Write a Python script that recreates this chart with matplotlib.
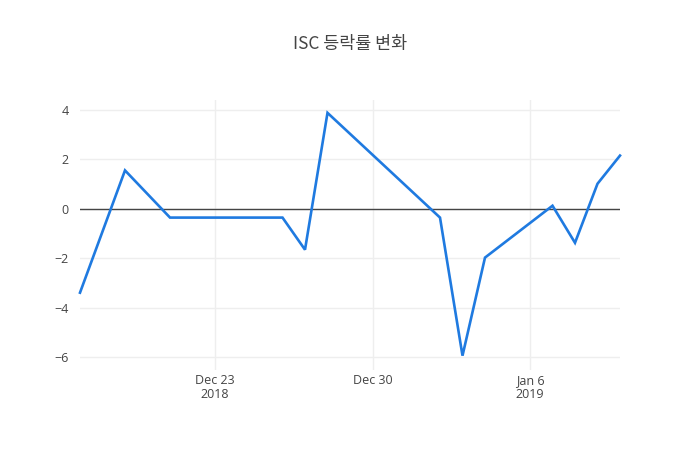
import matplotlib
matplotlib.use("Agg")
import matplotlib.pyplot as plt
import matplotlib.dates as mdates
import numpy as np
import datetime as dt

dates = ["2018-12-17", "2018-12-19", "2018-12-21", "2018-12-26", "2018-12-27",
         "2018-12-28", "2019-01-02", "2019-01-03", "2019-01-04", "2019-01-07",
         "2019-01-08", "2019-01-09", "2019-01-10"]
values = [-3.40, 1.55, -0.36, -0.36, -1.66, 3.88, -0.36, -5.95, -1.98, 0.12,
          -1.38, 1.01, 2.15]
title = "ISC 등락률 변화"
xtick_dates = ["2018-12-23", "2018-12-30", "2019-01-06"]
xtick_labels = ["Dec 23\n2018", "Dec 30", "Jan 6\n2019"]
ytick_vals = [-6, -4, -2, 0, 2, 4]
ytick_labels = ["−6", "−4", "−2", "0", "2", "4"]

plt.rcParams['font.family'] = ['Open Sans', 'Noto Sans CJK KR', 'DejaVu Sans']

x = [dt.datetime.strptime(d, "%Y-%m-%d") for d in dates]
fig = plt.figure(figsize=(7, 4.5), dpi=100)
ax = fig.add_axes([80/700, 80/450, 540/700, 270/450])
ax.plot(x, values, color="#1f7ae0", lw=1.9, solid_joinstyle="miter", zorder=3, clip_on=False)
ax.axhline(0, color="#444444", lw=1, zorder=2)

ax.set_xlim(x[0], x[-1])
ax.set_ylim(-6.53, 4.4)
xt = [dt.datetime.strptime(d, "%Y-%m-%d") for d in xtick_dates]
ax.set_xticks(xt)
ax.set_xticklabels(xtick_labels, fontsize=9, color="#444444", linespacing=1.1)
ax.set_yticks(ytick_vals)
ax.set_yticklabels(ytick_labels, fontsize=9, color="#444444")
ax.grid(True, color="#eeeeee", lw=1, zorder=0)
for s in ax.spines.values():
    s.set_visible(False)
ax.tick_params(axis='both', length=0, pad=8)
ax.tick_params(axis='x', pad=3)

fig.text(350/700, 1 - 44/450, title, ha="center", va="center", fontsize=12.5,
         color="#444444", family=['Noto Sans CJK KR', 'Open Sans'])
fig.savefig("out.png", dpi=100, facecolor="white")
